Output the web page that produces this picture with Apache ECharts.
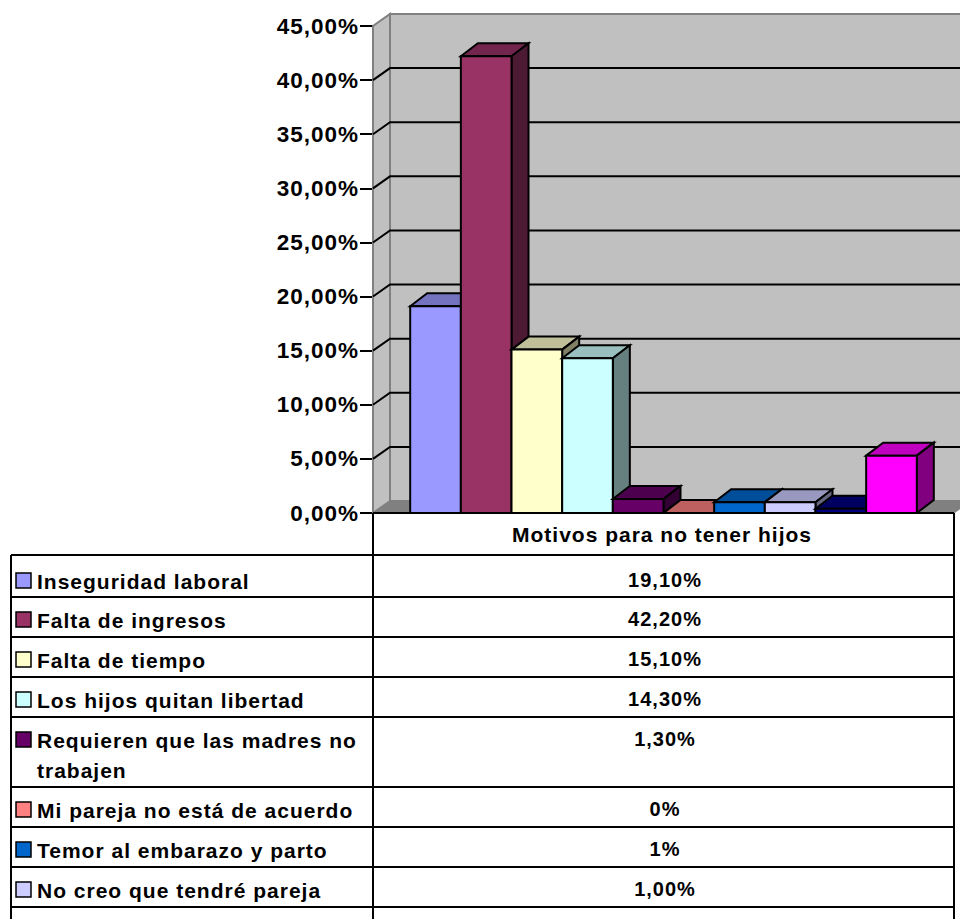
<!DOCTYPE html>
<html>
<head>
<meta charset="utf-8">
<style>
  html, body { margin: 0; padding: 0; background: #fff; }
  #chart { width: 960px; height: 919px; }
  #chart text { letter-spacing: 1px; }
</style>
<script src="https://cdn.jsdelivr.net/npm/echarts@6/dist/echarts.min.js"></script>
</head>
<body>
<div id="chart"></div>
<script>
var categoryName = 'Motivos para no tener hijos'
var seriesNames = [
  'Inseguridad laboral', 'Falta de ingresos', 'Falta de tiempo', 'Los hijos quitan libertad',
  'Requieren que las madres no trabajen', 'Mi pareja no está de acuerdo', 'Temor al embarazo y parto',
  'No creo que tendré pareja', 'Serie 9', 'Serie 10'
]
var seriesValues = [19.1, 42.2, 15.1, 14.3, 1.3, 0, 1, 1, 0.4, 5.3]
var rowLabels = ['19,10%', '42,20%', '15,10%', '14,30%', '1,30%', '0%', '1%', '1,00%']
var tableRowLines = [555, 597, 637, 677, 717, 787, 827, 867, 907]
var frontColors = ['#9999ff', '#993366', '#ffffcc', '#ccffff', '#660066', '#ff8080', '#0066cc', '#ccccff', '#000080', '#ff00ff']

var depthX = 17
var wallDepthY = -12
var barDepthY = -13
var tableLeft = 11
var tableMid = 373
var tableRight = 954
var gridLeft = 373
var gridTop = 26
var gridWidth = 581
var gridHeight = 487

function shade(hex, k) {
  var n = parseInt(hex.slice(1), 16)
  var r = Math.round((n >> 16 & 255) * k)
  var g = Math.round((n >> 8 & 255) * k)
  var b = Math.round((n & 255) * k)
  return 'rgb(' + r + ',' + g + ',' + b + ')'
}

// back walls, floor and the gridlines that run round them
function renderWalls(params, api) {
  var band = api.size([1, 0])[0]
  var o = api.coord([0, 0])
  o = [o[0] - band / 2, o[1]]
  var top = api.coord([0, 45])
  var right = o[0] + band
  var children = []
  var wallStyle = { fill: '#c0c0c0', stroke: '#808080', lineWidth: 2 }
  children.push({ type: 'polygon', shape: { points: [[o[0], o[1]], [o[0], top[1]], [o[0] + depthX, top[1] + wallDepthY], [o[0] + depthX, o[1] + wallDepthY]] }, style: wallStyle })
  children.push({ type: 'polygon', shape: { points: [[o[0] + depthX, o[1] + wallDepthY], [o[0] + depthX, top[1] + wallDepthY], [right + depthX, top[1] + wallDepthY], [right + depthX, o[1] + wallDepthY]] }, style: wallStyle })
  children.push({ type: 'polygon', shape: { points: [[o[0], o[1]], [o[0] + depthX, o[1] + wallDepthY], [right + depthX, o[1] + wallDepthY], [right, o[1]]] }, style: { fill: '#808080', stroke: '#808080', lineWidth: 1 } })
  for (var v = 5; v < 45; v += 5) {
    var p = api.coord([0, v])
    children.push({ type: 'polyline', shape: { points: [[o[0], p[1]], [o[0] + depthX, p[1] + wallDepthY], [right + depthX, p[1] + wallDepthY]] }, style: { fill: 'none', stroke: '#000', lineWidth: 2 } })
  }
  return { type: 'group', children: children }
}

function makeBarRenderer(idx) {
  return function (params, api) {
    var base = api.coord([0, 0])
    var head = api.coord([0, api.value(1)])
    var band = api.size([1, 0])[0]
    var barW = band * 0.0872
    var x0 = base[0] - band / 2 + band * 0.064 + barW * idx
    var x1 = x0 + barW
    var color = frontColors[idx]
    var line = { stroke: '#000', lineWidth: 2, lineJoin: 'miter' }
    return {
      type: 'group',
      children: [
        { type: 'polygon', shape: { points: [[x0, head[1]], [x0 + depthX, head[1] + barDepthY], [x1 + depthX, head[1] + barDepthY], [x1, head[1]]] }, style: Object.assign({ fill: shade(color, 0.75) }, line) },
        { type: 'polygon', shape: { points: [[x1, head[1]], [x1 + depthX, head[1] + barDepthY], [x1 + depthX, base[1] + barDepthY], [x1, base[1]]] }, style: Object.assign({ fill: shade(color, 0.5) }, line) },
        { type: 'rect', shape: { x: x0, y: head[1], width: x1 - x0, height: base[1] - head[1] }, style: Object.assign({ fill: color }, line) }
      ]
    }
  }
}

var series = [{
  type: 'custom',
  name: 'walls',
  silent: true,
  z: 1,
  renderItem: renderWalls,
  encode: { x: 0, y: 1 },
  data: [[0, 0]]
}]
seriesValues.forEach(function (v, i) {
  series.push({
    type: 'custom',
    name: seriesNames[i],
    z: 2 + i,
    renderItem: makeBarRenderer(i),
    encode: { x: 0, y: 1 },
    data: [[0, v]]
  })
})

// data table under the plot
var graphics = []
function tableLine(x1, y1, x2, y2) {
  graphics.push({ type: 'line', z: 50, shape: { x1: x1, y1: y1, x2: x2, y2: y2 }, style: { stroke: '#000', lineWidth: 2 } })
}
function tableText(text, x, y, align, size) {
  graphics.push({ type: 'text', z: 51, x: x, y: y, style: { text: text, align: align, verticalAlign: 'middle', fontFamily: 'Liberation Sans', fontWeight: 'bold', fontSize: size, fill: '#000' } })
}
graphics.push({ type: 'rect', z: 49, shape: { x: tableMid, y: 514, width: tableRight - tableMid, height: 405 }, style: { fill: '#fff' } })
tableLine(tableMid, 513, tableRight, 513)
tableLine(tableMid, 513, tableMid, 919)
tableLine(tableRight, 513, tableRight, 919)
tableLine(tableLeft, 555, tableLeft, 919)
tableRowLines.forEach(function (y) {
  tableLine(tableLeft, y, tableRight, y)
})
tableText(categoryName, 662, 534, 'center', 21)
rowLabels.forEach(function (label, i) {
  var top = tableRowLines[i]
  var textY = top + 26 - (i > 0 ? 3 : 0)
  graphics.push({ type: 'rect', z: 51, shape: { x: 16, y: textY - 8, width: 15, height: 15 }, style: { fill: frontColors[i], stroke: '#000', lineWidth: 1.5 } })
  if (i === 4) {
    tableText('Requieren que las madres no', 37, textY, 'left', 21)
    tableText('trabajen', 37, textY + 30, 'left', 21)
  } else {
    tableText(seriesNames[i], 37, textY, 'left', 21)
  }
  tableText(label, 665, textY - 1, 'center', 20)
})

var chart = echarts.init(document.getElementById('chart'), null, { renderer: 'svg' })
chart.setOption({
  animation: false,
  backgroundColor: '#fff',
  grid: { left: gridLeft, top: gridTop, width: gridWidth, height: gridHeight, containLabel: false },
  xAxis: {
    type: 'category',
    data: [categoryName],
    axisLine: { show: false },
    axisTick: { show: false },
    axisLabel: { show: false }
  },
  yAxis: {
    type: 'value',
    min: 0,
    max: 45,
    interval: 5,
    axisLine: { show: true, lineStyle: { color: '#000', width: 2 } },
    axisTick: { show: true, length: 13, lineStyle: { color: '#000', width: 2 } },
    splitLine: { show: false },
    axisLabel: {
      margin: 14,
      fontFamily: 'Liberation Sans',
      fontWeight: 'bold',
      fontSize: 22.5,
      color: '#000',
      formatter: function (v) { return v.toFixed(2).replace('.', ',') + '%' }
    }
  },
  series: series,
  graphic: graphics
})
</script>
</body>
</html>
